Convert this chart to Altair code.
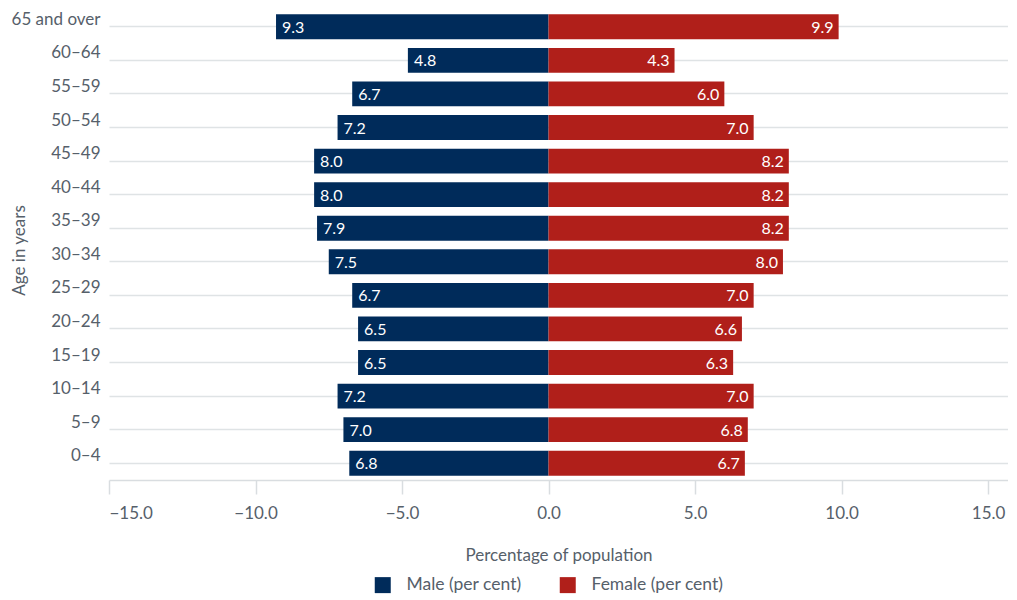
import altair as alt
import pandas as pd

ages = ["65 and over", "60–64", "55–59", "50–54", "45–49", "40–44", "35–39",
        "30–34", "25–29", "20–24", "15–19", "10–14", "5–9", "0–4"]
male = [9.3, 4.8, 6.7, 7.2, 8.0, 8.0, 7.9, 7.5, 6.7, 6.5, 6.5, 7.2, 7.0, 6.8]
female = [9.9, 4.3, 6.0, 7.0, 8.2, 8.2, 8.2, 8.0, 7.0, 6.6, 6.3, 7.0, 6.8, 6.7]
series = ["Male (per cent)", "Female (per cent)"]
tick_values = [-15, -10, -5, 0, 5, 10, 15]

rows = []
for a, m, f in zip(ages, male, female):
    rows.append({"age": a, "sex": series[0], "value": -m, "label": f"{m:.1f}"})
    rows.append({"age": a, "sex": series[1], "value": f, "label": f"{f:.1f}"})
df = pd.DataFrame(rows)

FONT = "Lato"
GREY = "#56606a"

x = alt.X("value:Q",
          scale=alt.Scale(domain=[-15, 15.68], nice=False, zero=False),
          axis=alt.Axis(values=tick_values, format=".1f", title="Percentage of population",
                        grid=False, tickSize=14, tickColor="#d9dde0", domainColor="#d9dde0",
                        domainWidth=1.5, tickWidth=1.5,
                        labelPadding=11, titlePadding=26, labelFontSize=17, titleFontSize=17,
                        labelColor=GREY, titleColor=GREY, labelFont=FONT, titleFont=FONT,
                        titleFontWeight="normal"))
y = alt.Y("age:N", sort=ages,
          scale=alt.Scale(paddingInner=0.26, paddingOuter=0.13),
          axis=alt.Axis(title="Age in years", grid=True, gridColor="#dfe3e5", gridWidth=1.5,
                        ticks=False, domain=False, labelBaseline="alphabetic", labelOffset=-2,
                        labelPadding=9, labelFontSize=17, titleFontSize=17,
                        labelColor=GREY, titleColor=GREY, labelFont=FONT, titleFont=FONT,
                        titleFontWeight="normal", titleX=-81, titleY=240))

base = alt.Chart(df)

bars = base.mark_bar().encode(
    x=x, y=y,
    color=alt.Color("sex:N",
                    scale=alt.Scale(domain=series, range=["#002b5a", "#b01f1a"]),
                    legend=alt.Legend(title=None, orient="none", direction="horizontal",
                                      legendX=265, legendY=566, padding=0,
                                      symbolType="square", symbolSize=256, symbolStrokeWidth=0,
                                      labelFontSize=17.5, labelColor=GREY, labelFont=FONT,
                                      columnPadding=37, symbolOffset=0,
                                      labelOffset=15)),
)

male_text = base.transform_filter(alt.datum.sex == series[0]).mark_text(
    align="left", dx=6, color="white", fontSize=16, font=FONT, baseline="middle", dy=1
).encode(x="value:Q", y=alt.Y("age:N", sort=ages), text="label:N")

female_text = base.transform_filter(alt.datum.sex == series[1]).mark_text(
    align="right", dx=-5, color="white", fontSize=16, font=FONT, baseline="middle", dy=1
).encode(x="value:Q", y=alt.Y("age:N", sort=ages), text="label:N")

chart = alt.layer(bars, male_text, female_text).properties(
    width=899, height=470, padding={"left": 2, "top": 2, "right": 0, "bottom": 0}
).configure_view(stroke=None)

chart.save("out.html", embed_options={"renderer": "svg", "actions": False})
